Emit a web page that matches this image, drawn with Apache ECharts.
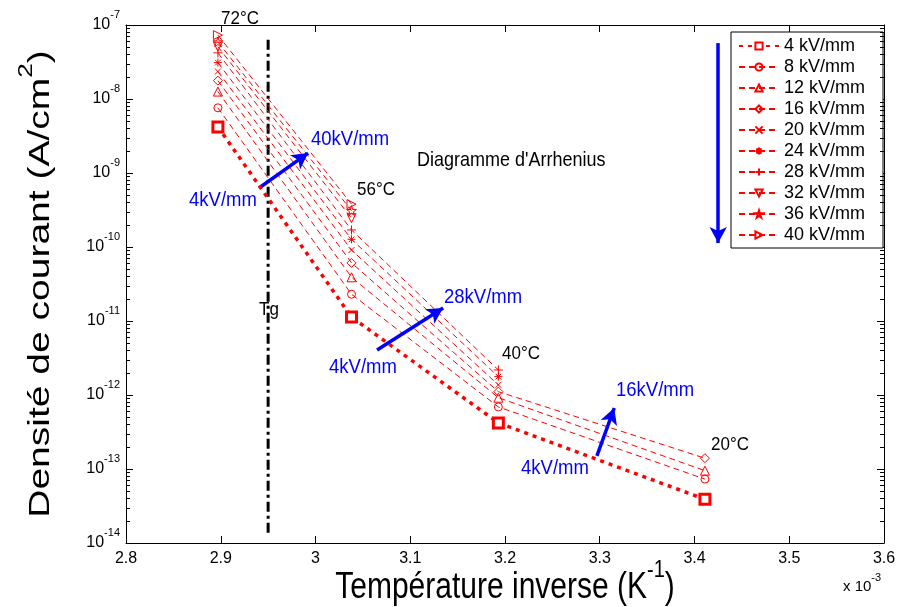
<!DOCTYPE html>
<html><head><meta charset="utf-8">
<script src="https://cdn.jsdelivr.net/npm/echarts@6/dist/echarts.min.js"></script>
<style>html,body{margin:0;padding:0;background:#fff}#c{width:902px;height:607px}</style>
</head><body><div id="c"></div>
<script>
// ---- data (x in units of 1e-3 K^-1) ----
const invT = [2.897, 3.038, 3.193, 3.411];           // 72°C, 56°C, 40°C, 20°C
const tempLabels = ['72°C', '56°C', '40°C', '20°C'];
const fieldNames = ['4 kV/mm','8 kV/mm','12 kV/mm','16 kV/mm','20 kV/mm','24 kV/mm','28 kV/mm','32 kV/mm','36 kV/mm','40 kV/mm'];
const J4  = [4.2e-9, 1.13e-11, 4.2e-13, 3.9e-14];
const J8  = [7.6e-9, 2.3e-11, 6.9e-13, 7.3e-14];
const J12 = [1.26e-8, 3.9e-11, 9.2e-13, 9.5e-14];
const J16 = [1.77e-8, 6.1e-11, 1.11e-12, 1.4e-13];
const J20 = [2.35e-8, 9.1e-11, 1.37e-12, null];
const J24 = [3.1e-8, 1.27e-10, 1.77e-12, null];
const J28 = [4.2e-8, 1.7e-10, 2.18e-12, null];
const J32 = [5.1e-8, 2.45e-10, null, null];
const J36 = [5.9e-8, 3.1e-10, null, null];
const J40 = [7.3e-8, 3.8e-10, null, null];
const xRange = [2.8, 3.6];
const yExponents = [-14, -13, -12, -11, -10, -9, -8, -7];
const minorMantissas = [2, 3, 4, 5, 6, 7, 8, 9];
const tgX = 2.95, tgRange = [6.3e-8, 1.3e-14];
const arrows = [
  [[2.9404, 6.27e-10], [2.9922, 1.86e-9]],
  [[3.065, 4.06e-12], [3.1347, 1.5e-11]],
  [[3.297, 1.5e-13], [3.3153, 6.67e-13]],
  [[3.425, 5.7e-8], [3.425, 1.13e-10]]
];

// ---- styling ----
const FONT = "'Liberation Sans', Arial, sans-serif";
const RED = '#ff0000', BLUE = '#0000ff';
const seriesValues = [J4, J8, J12, J16, J20, J24, J28, J32, J36, J40];
const P = {
  x: 'path://M0,0L10,10M10,0L0,10',
  ast: 'path://M5,0L5,10M0,5L10,5M1.5,1.5L8.5,8.5M8.5,1.5L1.5,8.5',
  plus: 'path://M5,0L5,10M0,5L10,5',
  down: 'path://M0,0L10,0L5,10Z',
  star: 'path://M5,0L6.123,3.455L9.755,3.455L6.816,5.59L7.939,9.045L5,6.91L2.061,9.045L3.184,5.59L0.245,3.455L3.877,3.455Z',
  right: 'path://M0,0L10,5L0,10Z'
};
const symbols = ['rect','circle','triangle','diamond',P.x,P.ast,P.plus,P.down,P.star,P.right];
const symSizes = [10, 8, 9, 9, 6, 8, 9, 9, 10, 9];

const series = seriesValues.map((vals, k) => ({
  name: fieldNames[k],
  type: 'line',
  data: invT.map((x, i) => [x, vals[i]]).filter(d => d[1] != null),
  symbol: symbols[k],
  symbolSize: symSizes[k],
  showAllSymbol: true,
  z: k === 0 ? 5 : 3,
  lineStyle: k === 0 ? {color: RED, width: 3.5, type: [4, 5]} : {color: RED, width: 1, type: [6, 4]},
  itemStyle: k === 0 ? {color: '#fff', borderColor: RED, borderWidth: 3} : {color: 'rgba(0,0,0,0)', borderColor: RED, borderWidth: 1},
  emphasis: {disabled: true}
}));
series.push({
  name: 'Tg', type: 'line', data: [[tgX, tgRange[0]], [tgX, tgRange[1]]],
  symbol: 'none', lineStyle: {color: '#000', width: 3, type: [10, 4, 3, 4]}, z: 2
});
series.push({
  name: 'arrows', type: 'line', data: [], z: 6,
  markLine: {
    silent: true, symbol: ['none', 'arrow'], symbolSize: [13, 16],
    label: {show: false},
    lineStyle: {color: BLUE, width: 3.5, type: 'solid'},
    data: arrows.map(a => [{coord: a[0]}, {coord: a[1]}])
  }
});

const majorVals = yExponents.map(e => Number('1e' + e));
const minorVals = [];
yExponents.slice(0, -1).forEach(e => minorMantissas.forEach(m => minorVals.push(Number(m + 'e' + e))));

const yBase = {type: 'log', logBase: 10, min: 1e-14, max: 1e-7, interval: 1, splitLine: {show: false}};
const ann = (x, y, s, color, size) => ({type: 'text', x: x, y: y, scaleY: 1.12,
  style: {text: s, fill: color, font: size + 'px ' + FONT, align: 'left', verticalAlign: 'middle'}});

const graphics = [
  {type: 'text', x: 505, y: 582, scaleY: 1.2, style: {
    text: '{t|Température inverse (K}{s|-1}{t|)}', align: 'center', verticalAlign: 'middle',
    rich: {t: {font: '30px ' + FONT, fill: '#000', verticalAlign: 'bottom', padding: [10, 0, 0, 0]},
           s: {font: '20px ' + FONT, fill: '#000', verticalAlign: 'top'}}}},
  {type: 'text', x: 36, y: 284, rotation: Math.PI / 2, scaleX: 1.3, style: {
    text: '{t|Densité de courant (A/cm}{s|2}{t|)}', align: 'center', verticalAlign: 'middle',
    rich: {t: {font: '30px ' + FONT, fill: '#000', verticalAlign: 'bottom', padding: [10, 0, 0, 0]},
           s: {font: '20px ' + FONT, fill: '#000', verticalAlign: 'top'}}}},
  ann(221, 19, tempLabels[0], '#000', 17),
  ann(357, 190, tempLabels[1], '#000', 17),
  ann(502, 354, tempLabels[2], '#000', 17),
  ann(711, 445, tempLabels[3], '#000', 17),
  ann(417, 160, "Diagramme d'Arrhenius", '#000', 18),
  ann(259, 310, 'Tg', '#000', 17),
  ann(311, 139, '40kV/mm', BLUE, 18.5),
  ann(189, 200, '4kV/mm', BLUE, 18.5),
  ann(444, 297, '28kV/mm', BLUE, 18.5),
  ann(329, 367, '4kV/mm', BLUE, 18.5),
  ann(616, 390, '16kV/mm', BLUE, 18.5),
  ann(521, 468, '4kV/mm', BLUE, 18.5),
  {type: 'text', x: 843, y: 583, style: {text: '{a|x 10}{s|-3}', align: 'left', verticalAlign: 'middle',
    rich: {a: {font: '15px ' + FONT, fill: '#000', verticalAlign: 'bottom', padding: [7, 0, 0, 0]},
           s: {font: '11px ' + FONT, fill: '#000', verticalAlign: 'top'}}}}
];

const option = {
  animation: false,
  backgroundColor: '#fff',
  grid: {left: 126, right: 18, top: 25, bottom: 64},
  legend: {
    data: fieldNames, orient: 'vertical', left: 731, top: 32,
    itemWidth: 40, itemHeight: 9, itemGap: 3,
    padding: [5, 18, 4, 7],
    backgroundColor: '#fff', borderColor: '#000', borderWidth: 1,
    textStyle: {fontFamily: FONT, fontSize: 18, color: '#000'},
    selectedMode: false
  },
  xAxis: [
    {type: 'value', min: xRange[0], max: xRange[1], interval: 0.1, position: 'bottom',
     axisLine: {lineStyle: {color: '#000', width: 1}},
     axisTick: {inside: true, length: 7, lineStyle: {color: '#000'}},
     axisLabel: {color: '#000', fontFamily: FONT, fontSize: 16, margin: 8},
     splitLine: {show: false}},
    {type: 'value', min: xRange[0], max: xRange[1], interval: 0.1, position: 'top',
     axisLine: {lineStyle: {color: '#000', width: 1}},
     axisTick: {inside: true, length: 7, lineStyle: {color: '#000'}},
     axisLabel: {show: false}, splitLine: {show: false}}
  ],
  yAxis: [
    Object.assign({}, yBase, {position: 'left',
      axisLine: {show: true, lineStyle: {color: '#000', width: 1}},
      axisTick: {inside: true, length: 7, lineStyle: {color: '#000'}},
      axisLabel: {customValues: majorVals, margin: 6, padding: [0, 0, 8, 0],
        formatter: v => '{b|10}{e|' + Math.round(Math.log10(v)) + '}',
        rich: {b: {fontFamily: FONT, fontSize: 16, color: '#000', verticalAlign: 'bottom', padding: [8, 0, 0, 0]},
               e: {fontFamily: FONT, fontSize: 11, color: '#000', verticalAlign: 'top'}}}}),
    Object.assign({}, yBase, {position: 'right',
      axisLine: {show: true, lineStyle: {color: '#000', width: 1}},
      axisTick: {inside: true, length: 7, lineStyle: {color: '#000'}},
      axisLabel: {show: false}})
  ],
  series: series,
  graphic: graphics
};
const chart = echarts.init(document.getElementById('c'), null, {renderer: 'canvas'});
chart.setOption(option);

// log-axis minor ticks on left and right frame edges, placed through the axis scale
const tickEls = [];
minorVals.forEach(v => {
  const pL = chart.convertToPixel({xAxisIndex: 0, yAxisIndex: 0}, [xRange[0], v]);
  const pR = chart.convertToPixel({xAxisIndex: 0, yAxisIndex: 0}, [xRange[1], v]);
  if (!pL || !pR) return;
  const y = Math.round(pL[1]) + 0.5;
  const xl = Math.round(pL[0]), xr = Math.round(pR[0]);
  tickEls.push({type: 'line', silent: true, z: 20, shape: {x1: xl, y1: y, x2: xl + 4, y2: y}, style: {stroke: '#000', lineWidth: 1}});
  tickEls.push({type: 'line', silent: true, z: 20, shape: {x1: xr - 4, y1: y, x2: xr, y2: y}, style: {stroke: '#000', lineWidth: 1}});
});
chart.setOption({graphic: graphics.concat(tickEls)});
</script></body></html>
